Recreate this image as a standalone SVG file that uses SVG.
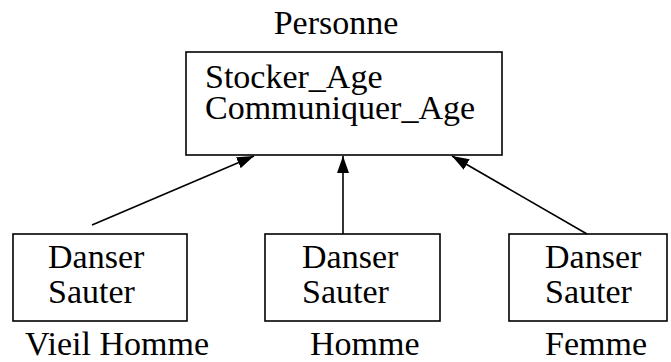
<svg xmlns="http://www.w3.org/2000/svg" width="671" height="362" viewBox="0 0 671 362">
<defs>
<style>
text{font-family:"Liberation Serif","Times New Roman",serif;font-size:34px;fill:#000}
.box{fill:#fff;stroke:#000;stroke-width:1.6}
.c line{stroke:#000;stroke-width:1.6}
</style>
<marker id="ah" markerWidth="18" markerHeight="12" refX="17" refY="6" orient="auto" markerUnits="userSpaceOnUse">
<path d="M0,0 L17,6 L0,12 Z" fill="#000"/>
</marker>
</defs>
<rect width="671" height="362" fill="#fff"/>
<g id="personne">
<text x="336" y="34" text-anchor="middle">Personne</text>
<rect class="box" x="186" y="52" width="316" height="103"/>
<text x="205" y="88">Stocker_Age</text>
<text x="205" y="119">Communiquer_Age</text>
</g>
<g id="vieil-homme">
<rect class="box" x="13" y="234" width="174" height="87"/>
<text x="48" y="268">Danser</text>
<text x="48" y="303">Sauter</text>
<text x="25" y="355">Vieil Homme</text>
</g>
<g id="homme">
<rect class="box" x="265" y="234" width="175" height="87"/>
<text x="302" y="268">Danser</text>
<text x="302" y="303">Sauter</text>
<text x="310" y="355">Homme</text>
</g>
<g id="femme">
<rect class="box" x="509" y="234" width="158" height="87"/>
<text x="545" y="268">Danser</text>
<text x="545" y="303">Sauter</text>
<text x="545" y="355">Femme</text>
</g>
<g class="c" id="connectors">
<line x1="92" y1="225" x2="254" y2="156" marker-end="url(#ah)"/>
<line x1="343" y1="234" x2="343" y2="156" marker-end="url(#ah)"/>
<line x1="587" y1="234" x2="452" y2="156" marker-end="url(#ah)"/>
</g>
</svg>
